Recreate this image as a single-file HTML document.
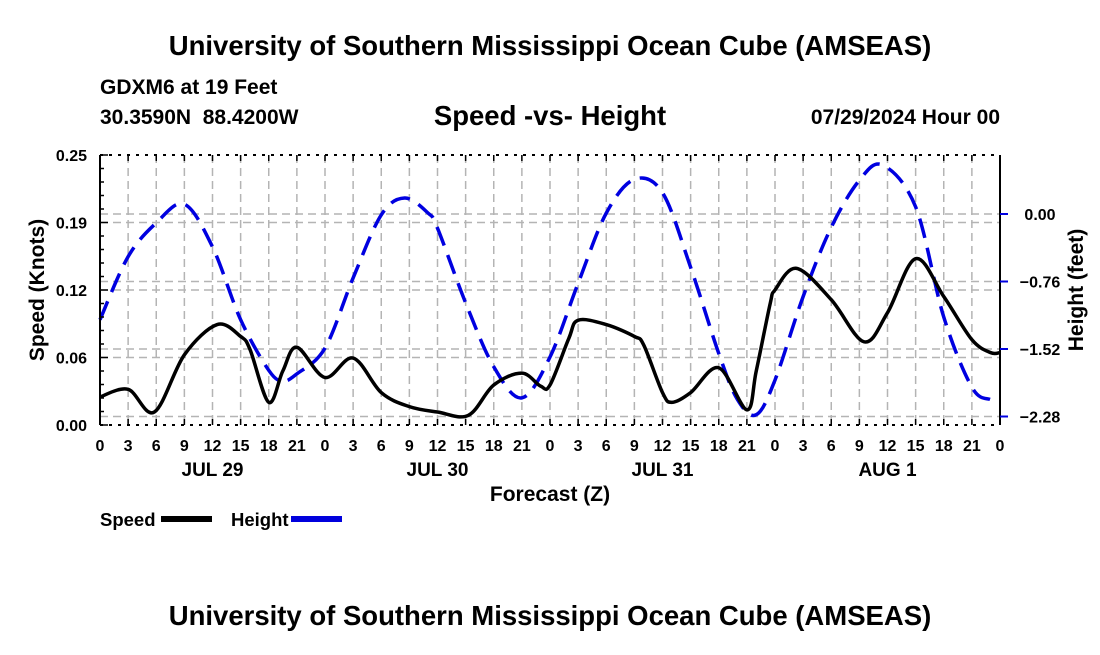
<!DOCTYPE html>
<html><head><meta charset="utf-8"><style>
body{margin:0;background:#fff;}
svg text{font-family:"Liberation Sans",Arial,sans-serif;font-weight:bold;fill:#000;}
</style></head><body>
<svg id="chart" width="1100" height="650" xmlns="http://www.w3.org/2000/svg">
<text x="550" y="55" font-size="27.5" text-anchor="middle">University of Southern Mississippi Ocean Cube (AMSEAS)</text>
<text x="100" y="94" font-size="21">GDXM6 at 19 Feet</text>
<text x="100" y="124" font-size="21" xml:space="preserve">30.3590N  88.4200W</text>
<text x="550" y="125" font-size="27.5" text-anchor="middle">Speed -vs- Height</text>
<text x="1000" y="124" font-size="21" text-anchor="end">07/29/2024 Hour 00</text>
<g id="grid"></g>
<g id="series"></g>
<g id="axes"></g>
<text x="550" y="501" font-size="21" text-anchor="middle">Forecast (Z)</text>
<text transform="translate(44,290) rotate(-90)" font-size="21" text-anchor="middle">Speed (Knots)</text>
<text transform="translate(1083,290) rotate(-90)" font-size="21" text-anchor="middle">Height (feet)</text>
<g>
<text x="100" y="526" font-size="18.5">Speed</text>
<rect x="161" y="516" width="51" height="6" fill="#000"/>
<text x="231" y="526" font-size="18.5">Height</text>
<rect x="291" y="516" width="51" height="6" fill="#0000dd"/>
</g>
<text x="550" y="625" font-size="27.5" text-anchor="middle">University of Southern Mississippi Ocean Cube (AMSEAS)</text>
</svg>
<script>
const speedHours=[0,3,5.8,9,12.5,15,16,18,19.5,21,24,27,30,33,36,39.3,42,45,47,48,50,51,54,57,58,60,61,63,66,69,70,71.5,72,74.3,78,81.5,84,87,90,93,95,96];
const speedValues=[0.026,0.033,0.012,0.065,0.093,0.082,0.07,0.021,0.05,0.072,0.044,0.062,0.030,0.017,0.012,0.009,0.037,0.048,0.036,0.037,0.08,0.097,0.093,0.082,0.074,0.030,0.021,0.030,0.053,0.014,0.05,0.113,0.125,0.145,0.116,0.077,0.104,0.154,0.119,0.079,0.067,0.067];
const heightHours=[0,3,6,9,12,15,18,19.5,21,24,27,30,32.5,35,36,39,42,45,48,51,54,57,60,63,66,68,70,72,75,78,81,83.5,87,90,93,95,96];
const heightValues=[-1.19,-0.48,-0.10,0.11,-0.37,-1.19,-1.76,-1.88,-1.80,-1.51,-0.72,-0.01,0.18,0.01,-0.16,-1.00,-1.72,-2.07,-1.61,-0.78,0.01,0.39,0.24,-0.60,-1.57,-2.09,-2.26,-1.87,-0.93,-0.15,0.38,0.55,0.08,-1.16,-1.95,-2.09,-2.09];
const xTickLabels=["0","3","6","9","12","15","18","21"];
const dayLabels=["JUL 29","JUL 30","JUL 31","AUG 1"];
const speedTicks=[0,0.0625,0.125,0.1875,0.25];
const speedTickLabels=["0.00","0.06","0.12","0.19","0.25"];
const heightTicks=[-2.28,-1.52,-0.76,0];
const heightTickLabels=["\u22122.28","\u22121.52","\u22120.76","0.00"];
const L=100,R=1000,T=155,B=425;
const x=h=>L+h*(R-L)/96;
const yS=v=>B-v*(B-T)/0.25;
const yH=v=>214-v*67.5/0.76;
const NS="http://www.w3.org/2000/svg";
function mk(tag,attrs,parent){const e=document.createElementNS(NS,tag);for(const k in attrs)e.setAttribute(k,attrs[k]);parent.appendChild(e);return e;}
const grid=document.getElementById('grid'),axes=document.getElementById('axes'),series=document.getElementById('series');
const gs={stroke:"#b4b4b4","stroke-width":1.5,"stroke-dasharray":"8,5"};
for(let h=3;h<96;h+=3){const l=mk('line',Object.assign({x1:x(h),x2:x(h),y1:T,y2:B},gs),grid);

}
speedTicks.slice(1,4).forEach(v=>{const l=mk('line',Object.assign({x1:L,x2:R,y1:yS(v),y2:yS(v)},gs),grid);

});
heightTicks.forEach(v=>{const l=mk('line',Object.assign({x1:L,x2:R,y1:yH(v),y2:yH(v)},gs),grid);

});
function spline(xs,ys){let d=`M${xs[0]},${ys[0]}`;const n=xs.length;
for(let i=0;i<n-1;i++){const x0=xs[Math.max(0,i-1)],y0=ys[Math.max(0,i-1)],x1=xs[i],y1=ys[i],x2=xs[i+1],y2=ys[i+1],x3=xs[Math.min(n-1,i+2)],y3=ys[Math.min(n-1,i+2)];
d+=` C${x1+(x2-x0)/6},${y1+(y2-y0)/6} ${x2-(x3-x1)/6},${y2-(y3-y1)/6} ${x2},${y2}`;}return d;}
const hp=mk('path',{d:spline(heightHours.map(x),heightValues.map(yH)),fill:"none",stroke:"#0000e0","stroke-width":3.5,"stroke-dasharray":"20,10"},series);


const sp=mk('path',{d:spline(speedHours.map(x),speedValues.map(yS)),fill:"none",stroke:"#000","stroke-width":3.5,"stroke-linejoin":"round"},series);


mk('line',{x1:L,x2:R,y1:T,y2:T,stroke:"#000","stroke-width":2,"stroke-dasharray":"3,6"},axes);
mk('line',{x1:L,x2:R,y1:B,y2:B,stroke:"#000","stroke-width":2,"stroke-dasharray":"3,6"},axes);
mk('line',{x1:L,x2:L,y1:T,y2:B,stroke:"#000","stroke-width":2},axes);
mk('line',{x1:R,x2:R,y1:T,y2:B,stroke:"#000","stroke-width":2},axes);
for(let h=0;h<=96;h+=3){mk('line',{x1:x(h),x2:x(h),y1:B,y2:B-6,stroke:"#000","stroke-width":1.5},axes);
mk('line',{x1:x(h),x2:x(h),y1:T,y2:T+6,stroke:"#000","stroke-width":1.5},axes);
const t=mk('text',{x:x(h),y:451,"font-size":16,"text-anchor":"middle"},axes);t.textContent=xTickLabels[(h/3)%8];

}
dayLabels.forEach((s,i)=>{const t=mk('text',{x:x(12+24*i),y:476,"font-size":19,"text-anchor":"middle"},axes);t.textContent=s;

});
for(let k=0;k<=20;k++){const v=k*0.0125;mk('line',{x1:L,x2:L+(k%5?4:8),y1:yS(v),y2:yS(v),stroke:"#000","stroke-width":1.5},axes);}
speedTicks.forEach((v,i)=>{const t=mk('text',{x:87,y:yS(v)+6,"font-size":16,"text-anchor":"end"},axes);t.textContent=speedTickLabels[i];

});
heightTicks.forEach((v,i)=>{mk('line',{x1:R,x2:R+8,y1:yH(v),y2:yH(v),stroke:"#0000e0","stroke-width":2},axes);
const t=mk('text',{x:1040,y:yH(v)+6,"font-size":16,"text-anchor":"middle"},axes);t.textContent=heightTickLabels[i];

});
</script>
</body></html>
